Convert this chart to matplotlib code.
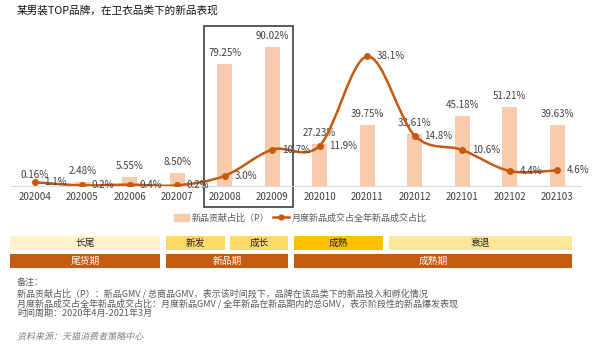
import matplotlib
matplotlib.use("Agg")
import matplotlib.pyplot as plt
from matplotlib.patches import Rectangle, Patch, PathPatch
from matplotlib.lines import Line2D
from matplotlib.path import Path
from matplotlib.textpath import TextPath
from matplotlib.font_manager import FontProperties
from matplotlib.transforms import Affine2D

plt.rcParams["font.family"] = ["Noto Sans CJK SC", "DejaVu Sans"]

# data
months = ["202004", "202005", "202006", "202007", "202008", "202009",
          "202010", "202011", "202012", "202101", "202102", "202103"]
contrib = [0.16, 2.48, 5.55, 8.50, 79.25, 90.02,
           27.23, 39.75, 33.61, 45.18, 51.21, 39.63]
monthly_share = [1.1, 0.2, 0.4, 0.2, 3.0, 10.7,
                 11.9, 38.1, 14.8, 10.6, 4.4, 4.6]

stage_names = ["长尾", "新发", "成长", "成熟", "衰退"]
period_names = ["尾货期", "新品期", "成熟期"]

title = "某男装TOP品牌，在卫衣品类下的新品表现"
notes = [
    "备注：",
    "新品贡献占比（P）：新品GMV / 总商品GMV，表示该时间段下，品牌在该品类下的新品投入和孵化情况",
    "月度新品成交占全年新品成交占比：月度新品GMV / 全年新品在新品期内的总GMV，表示阶段性的新品爆发表现",
    "时间周期：2020年4月-2021年3月",
]
source = "资料来源：天猫消费者策略中心"

# styling / layout
BAR_C = "#F8CBAD"
LINE_C = "#C55A11"
TXT_C = "#404040"
W, H = 600, 346
stage_spans = [(10, 160), (166, 225), (230, 288), (294, 383), (389, 572)]
stage_colors = ["#FFF2CC", "#FFD966", "#FFD966", "#FFC000", "#FFE699"]
period_spans = [(10, 160), (166, 288), (294, 572)]

fig = plt.figure(figsize=(6, 3.46), dpi=100)

# full-figure pixel axes for layout items
lay = fig.add_axes([0, 0, 1, 1])
lay.set_xlim(0, W)
lay.set_ylim(H, 0)
lay.axis("off")

ax = fig.add_axes([11 / W, (H - 186) / H, 570 / W, 166 / H])
ax.set_zorder(2)
ax.patch.set_alpha(0)
x = list(range(len(months)))
ax.bar(x, contrib, width=0.32, color=BAR_C, zorder=1)
ax.set_xlim(-0.5, len(months) - 0.5)
ax.set_ylim(0, 166 / 1.54)
ax.set_xticks(x)
ax.set_xticklabels(months, fontsize=7, color=TXT_C)
ax.tick_params(axis="x", length=0, pad=4)
ax.set_yticks([])
for s in ["top", "left", "right"]:
    ax.spines[s].set_visible(False)
ax.spines["bottom"].set_color("#D9D9D9")
for i, v in enumerate(contrib):
    ax.annotate(f"{v:.2f}%", (i, v), xytext=(0, 8), textcoords="offset points",
                ha="center", va="center", fontsize=7, color=TXT_C)

ax2 = ax.twinx()
ax2.set_ylim(0, 166 / 3.4)
ax2.set_yticks([])
for s in ax2.spines.values():
    s.set_visible(False)

# smoothed line (catmull-rom style bezier through the points)
pts = list(zip(x, monthly_share))
verts = [pts[0]]
codes = [Path.MOVETO]
n = len(pts)
for i in range(n - 1):
    p0 = pts[max(i - 1, 0)]
    p1 = pts[i]
    p2 = pts[i + 1]
    p3 = pts[min(i + 2, n - 1)]
    c1 = (p1[0] + (p2[0] - p0[0]) / 6, p1[1] + (p2[1] - p0[1]) / 6)
    c2 = (p2[0] - (p3[0] - p1[0]) / 6, p2[1] - (p3[1] - p1[1]) / 6)
    verts += [c1, c2, p2]
    codes += [Path.CURVE4] * 3
ax2.add_patch(PathPatch(Path(verts, codes), facecolor="none",
                        edgecolor=LINE_C, lw=1.8, zorder=3))
ax2.plot(x, monthly_share, "o", color=LINE_C, ms=4, zorder=4)
for i, v in enumerate(monthly_share):
    ax2.annotate(f"{v:.1f}%", (i, v), xytext=(7, 0), textcoords="offset points",
                 ha="left", va="center", fontsize=7, color=TXT_C)

# highlight box
lay.add_patch(Rectangle((204, 26), 89, 181, fill=False, ec="#404040", lw=1.2, zorder=5))

# legend
handles = [Patch(color=BAR_C),
           Line2D([], [], color=LINE_C, lw=1.8, marker="o", ms=3.5)]
fig.legend(handles, ["新品贡献占比（P）", "月度新品成交占全年新品成交占比"],
           loc="center", bbox_to_anchor=(300 / W, 1 - 218 / H), ncol=2,
           frameon=False, fontsize=6.5, handlelength=1.7, handletextpad=0.3,
           columnspacing=0.4, labelcolor="#595959")

# stage rows
for name, (a, b), c in zip(stage_names, stage_spans, stage_colors):
    lay.add_patch(Rectangle((a, 236), b - a, 14, color=c, lw=0))
    lay.text((a + b) / 2, 243, name, ha="center", va="center", fontsize=7, color="#262626")
for name, (a, b) in zip(period_names, period_spans):
    lay.add_patch(Rectangle((a, 254), b - a, 14, color=LINE_C, lw=0))
    lay.text((a + b) / 2, 261, name, ha="center", va="center", fontsize=7, color="white")

# title and notes
lay.text(17, 11, title, ha="left", va="center", fontsize=7.7, color="#111111")
for k, line in enumerate(notes):
    lay.text(17, 283 + k * 10.2, line, ha="left", va="center", fontsize=6.5, color="#595959")

# source line, slanted by hand since the CJK font has no italic
tp = TextPath((0, 0), source, size=6.5 * 100 / 72,
              prop=FontProperties(family="Noto Sans CJK SC"))
tr = Affine2D().skew_deg(12, 0).scale(1, -1).translate(17, 339.5)
lay.add_patch(PathPatch(tr.transform_path(tp), color="#7F7F7F", lw=0))

fig.savefig("out.png", dpi=100)
